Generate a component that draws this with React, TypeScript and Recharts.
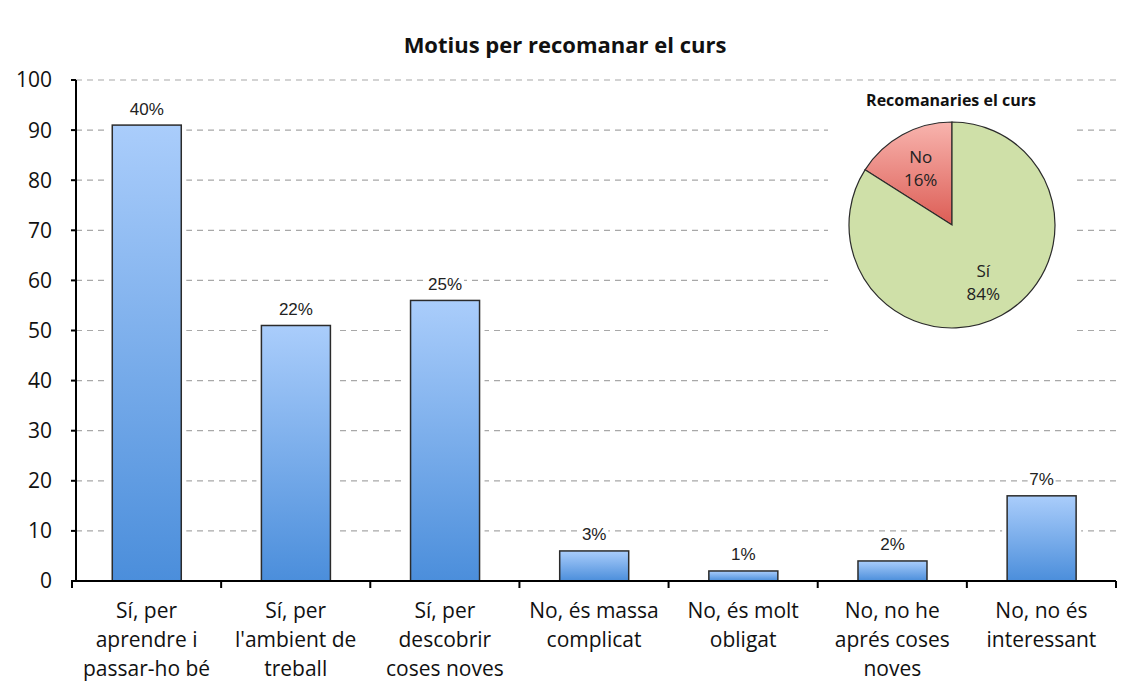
import React from "react";
import {
  BarChart,
  Bar,
  XAxis,
  YAxis,
  CartesianGrid,
  LabelList,
  PieChart,
  Pie,
  Cell,
} from "recharts";

const categories = [
  "Sí, per\naprendre i\npassar-ho bé",
  "Sí, per\nl'ambient de\ntreball",
  "Sí, per\ndescobrir\ncoses noves",
  "No, és massa\ncomplicat",
  "No, és molt\nobligat",
  "No, no he\naprés coses\nnoves",
  "No, no és\ninteressant",
];
const counts = [91, 51, 56, 6, 2, 4, 17];
const shares = ["40%", "22%", "25%", "3%", "1%", "2%", "7%"];
const yTicks = [0, 10, 20, 30, 40, 50, 60, 70, 80, 90, 100];

const pieNames = ["No", "Sí"];
const pieValues = [16, 84];
const pieLabels = ["16%", "84%"];

const W = 1130;
const H = 695;
const M = { top: 80, right: 14, left: 0, bottom: 0 };
const Y_W = 76;
const X_H = 114;
const PAD_L = -4;
const BAND = (W - Y_W - M.right - PAD_L) / categories.length;

const FONT = "'Open Sans', sans-serif";

const barData = categories.map((c, i) => ({ name: c, count: counts[i], share: shares[i] }));
const pieData = pieNames.map((n, i) => ({ name: n, value: pieValues[i], label: pieLabels[i] }));

function XTick(props: any) {
  const { x, y, payload, index } = props;
  const axisY = y - 6;
  const lines = String(payload.value).split("\n");
  return (
    <g>
      {index === 0 && (
        <line x1={x - BAND / 2} x2={x - BAND / 2} y1={axisY} y2={axisY + 7} stroke="#000" strokeWidth={2} />
      )}
      <line x1={x + BAND / 2} x2={x + BAND / 2} y1={axisY} y2={axisY + 7} stroke="#000" strokeWidth={2} />
      {lines.map((l, i) => (
        <text
          key={i}
          x={x}
          y={axisY + 31 + i * 29}
          textAnchor="middle"
          dominantBaseline="middle"
          fontFamily={FONT}
          fontSize={21}
          fill="#111"
        >
          {l}
        </text>
      ))}
    </g>
  );
}

function BarShape(props: any) {
  const { x, y, width, height } = props;
  if (height == null || height <= 0) return null;
  return (
    <g>
      <rect x={x - 5} y={y - 5} width={width + 10} height={height + 4} fill="#fff" />
      <rect x={x} y={y} width={width} height={height} fill="url(#barGrad)" stroke="#2b2b2b" strokeWidth={1.5} />
    </g>
  );
}

function ShareLabel(props: any) {
  const { x, y, width, value } = props;
  const cx = x + width / 2;
  const cy = y - 15;
  const tw = String(value).length * 10 + 8;
  return (
    <g>
      <rect x={cx - tw / 2} y={cy - 10} width={tw} height={20} fill="#fff" />
      <text
        x={cx}
        y={cy}
        textAnchor="middle"
        dominantBaseline="middle"
        fontFamily="'Liberation Sans', Arial, sans-serif"
        fontSize={17}
        fill="#222"
      >
        {value}
      </text>
    </g>
  );
}

const RAD = Math.PI / 180;
function PieLabel(props: any) {
  const { cx, cy, midAngle, index } = props;
  const r = 65;
  const px = cx + r * Math.cos(-midAngle * RAD);
  const py = cy + r * Math.sin(-midAngle * RAD);
  return (
    <text x={px} textAnchor="middle" fontFamily={FONT} fontSize={17} fill="#222">
      <tspan x={px} y={py - 5}>
        {pieData[index].name}
      </tspan>
      <tspan x={px} y={py + 18}>
        {pieData[index].label}
      </tspan>
    </text>
  );
}

export default function App() {
  return (
    <div
      style={{
        position: "relative",
        margin: -8,
        width: W,
        height: H,
        overflow: "hidden",
        background: "#fff",
        fontFamily: FONT,
      }}
    >
      <div
        style={{
          position: "absolute",
          left: 0,
          top: 29,
          width: W,
          textAlign: "center",
          fontWeight: 700,
          fontSize: 22,
          color: "#111",
        }}
      >
        Motius per recomanar el curs
      </div>
      <div style={{ position: "absolute", left: 0, top: 0 }}>
        <BarChart width={W} height={H} data={barData} margin={M} barCategoryGap="27%">
          <defs>
            <linearGradient id="barGrad" x1="0" y1="0" x2="0" y2="1">
              <stop offset="0%" stopColor="#aacdfb" />
              <stop offset="100%" stopColor="#4b8edb" />
            </linearGradient>
          </defs>
          <CartesianGrid vertical={false} stroke="#a8a8a8" strokeDasharray="6 5" strokeWidth={1.2} />
          <XAxis
            dataKey="name"
            height={X_H}
            interval={0}
            padding={{ left: PAD_L, right: 0 }}
            tick={<XTick />}
            tickLine={false}
            tickSize={6}
            tickMargin={0}
            axisLine={{ stroke: "#000", strokeWidth: 2 }}
          />
          <YAxis
            width={Y_W}
            domain={[0, 100]}
            ticks={yTicks}
            interval={0}
            tickSize={5}
            tickMargin={19}
            tick={{ fontSize: 21, fill: "#111", fontFamily: FONT }}
            tickLine={{ stroke: "#000", strokeWidth: 2 }}
            axisLine={{ stroke: "#000", strokeWidth: 2 }}
          />
          <Bar dataKey="count" isAnimationActive={false} shape={<BarShape />}>
            <LabelList dataKey="share" content={<ShareLabel />} />
          </Bar>
        </BarChart>
      </div>
      <div
        style={{
          position: "absolute",
          left: 828,
          top: 86,
          width: 244,
          height: 258,
          background: "#fff",
        }}
      >
        <div
          style={{
            position: "absolute",
            left: 0,
            top: 3,
            width: 246,
            textAlign: "center",
            fontWeight: 700,
            fontSize: 16,
            color: "#111",
          }}
        >
          Recomanaries el curs
        </div>
        <div style={{ position: "absolute", left: 0, top: 0 }}>
          <PieChart width={244} height={258} margin={{ top: 0, right: 0, bottom: 0, left: 0 }}>
            <defs>
              <linearGradient id="noGrad" x1="0" y1="0" x2="0" y2="1">
                <stop offset="0%" stopColor="#f8b4ae" />
                <stop offset="100%" stopColor="#dc5d55" />
              </linearGradient>
            </defs>
            <Pie
              data={pieData}
              dataKey="value"
              nameKey="name"
              cx={124}
              cy={139}
              outerRadius={103}
              startAngle={90}
              endAngle={450}
              stroke="#2b2b2b"
              strokeWidth={1.2}
              label={PieLabel}
              labelLine={false}
              isAnimationActive={false}
            >
              <Cell fill="url(#noGrad)" />
              <Cell fill="#cfe0a8" />
            </Pie>
          </PieChart>
        </div>
      </div>
      <div
        style={{
          position: "absolute",
          left: 4,
          top: 7,
          width: W,
          height: H,
          borderTop: "1px solid #a0a0a0",
          borderLeft: "1px solid #a0a0a0",
          pointerEvents: "none",
        }}
      />
    </div>
  );
}
